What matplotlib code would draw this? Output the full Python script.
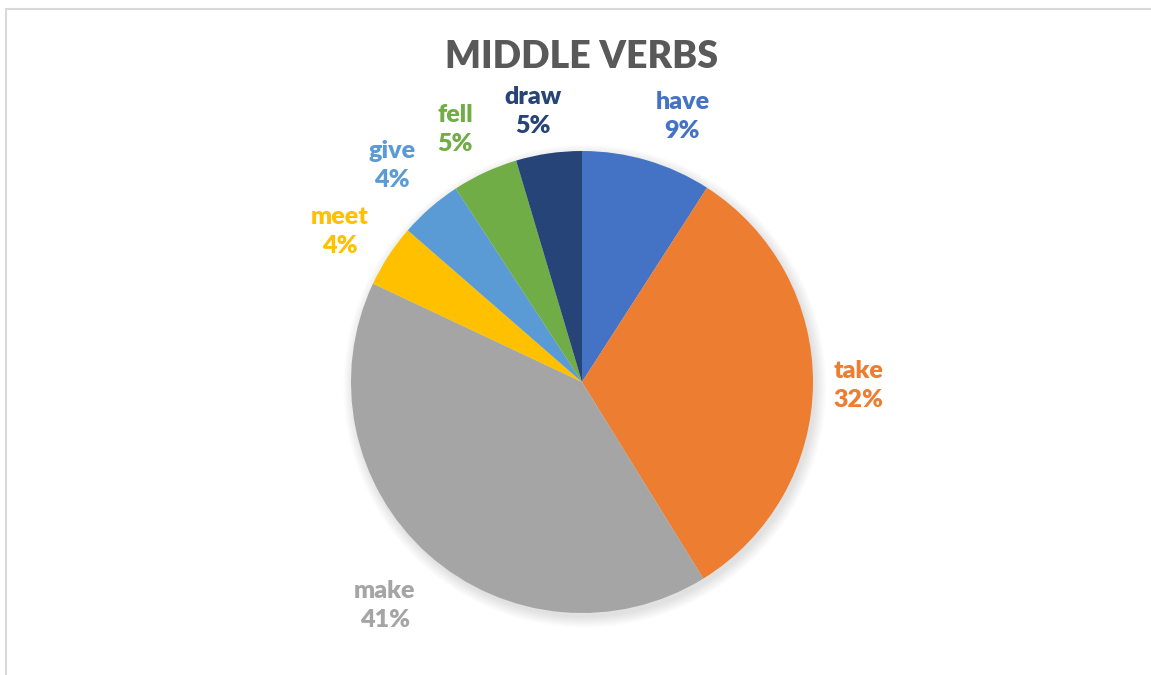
import numpy as np
import matplotlib.pyplot as plt
from matplotlib.patches import Rectangle, Circle

# data (percent of verbs), clockwise from 12 o'clock
verbs = ['have', 'take', 'make', 'meet', 'give', 'fell', 'draw']
shares = [9.1, 32.1, 40.8, 4.4, 4.4, 4.6, 4.6]
colors = ['#4472C4', '#ED7D31', '#A5A5A5', '#FFC000', '#5B9BD5', '#70AD47', '#264478']

# small label nudges in pixels (right, down) to mimic Excel's best-fit placement
label_nudge = [(20, 8), (-9, 1), (-7, 11), (-3, 5), (-3, -1), (-7, 6), (-8, 12)]

plt.rcParams['font.family'] = ['Lato', 'DejaVu Sans']

W, H = 1151, 675
fig = plt.figure(figsize=(W / 100, H / 100), dpi=100)
fig.patch.set_facecolor('white')

# chart frame (only left / top edges show in the crop)
fig.patches.append(Rectangle((5.5 / W, -0.1), 1.2, (H - 8.5) / H + 0.1,
                             transform=fig.transFigure, fill=False,
                             edgecolor='#d9d9d9', linewidth=1.5))

# axes over the whole figure, 1 data unit = pie radius in pixels
R = 231.0
cx, cy = 582.0, H - 382.0
ax = fig.add_axes([0, 0, 1, 1])
ax.axis('off')

# soft shadow under the pie
for i in range(10):
    ax.add_patch(Circle((0.012, -0.018), 1.0 + i * 0.005, color='black',
                        alpha=0.012, linewidth=0, zorder=0))

wedges, _ = ax.pie(shares, colors=colors, startangle=90, counterclock=False,
                   radius=1.0, wedgeprops=dict(linewidth=0), normalize=True)
for w in wedges:
    w.set_zorder(2)

total = sum(shares)
for w, name, val, col, (nx, ny) in zip(wedges, verbs, shares, colors, label_nudge):
    mid = np.deg2rad((w.theta1 + w.theta2) / 2)
    d = 1.235
    ax.text(d * np.cos(mid) + nx / R, d * np.sin(mid) - ny / R,
            f'{name}\n{val / total * 100:.0f}%',
            ha='center', va='center', color=col, fontsize=18, fontweight='heavy',
            linespacing=1.4)

ax.set_xlim(-cx / R, (W - cx) / R)
ax.set_ylim(-cy / R, (H - cy) / R)
ax.set_aspect('auto')

fig.text(582 / W, 1 - 57 / H, 'MIDDLE VERBS', ha='center', va='center',
         fontsize=27, fontweight='heavy', color='#595959')

fig.savefig('out.png', dpi=100)
